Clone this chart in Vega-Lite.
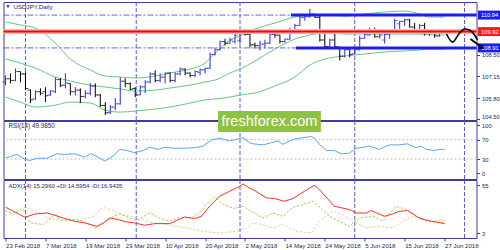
{
"$schema": "https://vega.github.io/schema/vega-lite/v6.json",
"background": "white",
"padding": {"left": 0.5, "top": 1, "right": 0, "bottom": 0},
"spacing": 1,
"bounds": "flush",
"config": {
 "view": {"stroke": "#3c3ca0", "strokeWidth": 1},
 "axis": {"labelFont": "Liberation Sans", "labelFontSize": 5.8, "labelColor": "#1e1e66", "tickColor": "#3c3ca0", "domain": false, "grid": false},
 "text": {"font": "Liberation Sans"}
},
"datasets": {
 "seps": [{"i": 4}, {"i": 26.2}, {"i": 47}, {"i": 70}, {"i": 92}],
 "ohlc": [
  {"i":0,"o":106.80,"h":107.21,"l":106.60,"c":107.00},
  {"i":1,"o":107.00,"h":107.33,"l":106.72,"c":106.90},
  {"i":2,"o":106.90,"h":107.64,"l":106.85,"c":107.45},
  {"i":3,"o":107.45,"h":107.45,"l":106.78,"c":107.30},
  {"i":4,"o":107.30,"h":107.40,"l":106.29,"c":106.40},
  {"i":5,"o":106.30,"h":106.35,"l":105.49,"c":105.70},
  {"i":6,"o":105.75,"h":106.29,"l":105.70,"c":106.20},
  {"i":7,"o":106.20,"h":106.41,"l":105.98,"c":106.10},
  {"i":8,"o":106.20,"h":106.48,"l":105.56,"c":105.95},
  {"i":9,"o":106.00,"h":106.29,"l":105.95,"c":106.25},
  {"i":10,"o":106.20,"h":107.09,"l":106.11,"c":106.95},
  {"i":11,"o":106.95,"h":107.03,"l":106.48,"c":106.60},
  {"i":12,"o":106.60,"h":107.33,"l":106.41,"c":106.75},
  {"i":13,"o":106.70,"h":106.72,"l":105.98,"c":106.20},
  {"i":14,"o":106.20,"h":106.48,"l":105.98,"c":106.30},
  {"i":15,"o":106.30,"h":106.41,"l":105.49,"c":105.90},
  {"i":16,"o":105.90,"h":106.29,"l":105.80,"c":106.10},
  {"i":17,"o":106.10,"h":106.72,"l":105.98,"c":106.55},
  {"i":18,"o":106.55,"h":106.72,"l":105.86,"c":106.00},
  {"i":19,"o":106.00,"h":106.05,"l":105.25,"c":105.35},
  {"i":20,"o":105.35,"h":105.56,"l":104.76,"c":104.90},
  {"i":21,"o":104.90,"h":105.37,"l":104.82,"c":105.25},
  {"i":22,"o":105.25,"h":105.80,"l":105.06,"c":105.45},
  {"i":23,"o":105.45,"h":107.09,"l":105.40,"c":106.85},
  {"i":24,"o":106.85,"h":107.03,"l":106.48,"c":106.70},
  {"i":25,"o":106.70,"h":106.78,"l":106.29,"c":106.35},
  {"i":26,"o":106.40,"h":106.48,"l":105.86,"c":106.00},
  {"i":27,"o":106.00,"h":106.60,"l":105.98,"c":106.50},
  {"i":28,"o":106.50,"h":106.91,"l":106.11,"c":106.80},
  {"i":29,"o":106.80,"h":107.40,"l":106.72,"c":107.30},
  {"i":30,"o":107.30,"h":107.52,"l":106.78,"c":106.90},
  {"i":31,"o":106.90,"h":107.33,"l":106.78,"c":107.10},
  {"i":32,"o":107.10,"h":107.40,"l":106.72,"c":107.35},
  {"i":33,"o":107.35,"h":107.40,"l":106.78,"c":106.90},
  {"i":34,"o":106.90,"h":107.40,"l":106.78,"c":107.30},
  {"i":35,"o":107.30,"h":107.70,"l":107.21,"c":107.60},
  {"i":36,"o":107.60,"h":107.64,"l":107.21,"c":107.35},
  {"i":37,"o":107.35,"h":107.40,"l":107.09,"c":107.20},
  {"i":38,"o":107.20,"h":107.52,"l":107.09,"c":107.45},
  {"i":39,"o":107.40,"h":107.64,"l":107.21,"c":107.55},
  {"i":40,"o":107.55,"h":107.70,"l":107.33,"c":107.65},
  {"i":41,"o":107.65,"h":108.62,"l":107.60,"c":108.50},
  {"i":42,"o":108.50,"h":108.93,"l":108.44,"c":108.80},
  {"i":43,"o":108.80,"h":109.36,"l":108.75,"c":109.30},
  {"i":44,"o":109.30,"h":109.48,"l":109.05,"c":109.20},
  {"i":45,"o":109.20,"h":109.54,"l":109.18,"c":109.40},
  {"i":46,"o":109.30,"h":109.79,"l":109.18,"c":109.70},
  {"i":47,"o":109.35,"h":109.97,"l":109.18,"c":109.85},
  {"i":48,"o":109.85,"h":109.97,"l":109.67,"c":109.75},
  {"i":49,"o":109.75,"h":109.85,"l":108.93,"c":109.10},
  {"i":50,"o":109.10,"h":109.24,"l":108.87,"c":109.05},
  {"i":51,"o":109.05,"h":109.36,"l":108.75,"c":109.15},
  {"i":52,"o":109.15,"h":109.42,"l":108.87,"c":109.20},
  {"i":53,"o":109.20,"h":109.85,"l":109.15,"c":109.75},
  {"i":54,"o":109.75,"h":109.85,"l":109.54,"c":109.70},
  {"i":55,"o":109.70,"h":109.72,"l":109.18,"c":109.30},
  {"i":56,"o":109.30,"h":109.48,"l":109.24,"c":109.45},
  {"i":57,"o":109.45,"h":110.16,"l":109.40,"c":110.05},
  {"i":58,"o":110.05,"h":110.40,"l":109.85,"c":110.30},
  {"i":59,"o":110.30,"h":110.89,"l":110.28,"c":110.80},
  {"i":60,"o":110.80,"h":110.89,"l":110.59,"c":110.85},
  {"i":61,"o":110.85,"h":111.32,"l":110.77,"c":111.00},
  {"i":62,"o":111.00,"h":111.02,"l":110.77,"c":110.80},
  {"i":63,"o":110.80,"h":110.89,"l":109.30,"c":109.40},
  {"i":64,"o":109.40,"h":109.85,"l":108.93,"c":109.00},
  {"i":65,"o":109.00,"h":109.48,"l":108.95,"c":109.40},
  {"i":66,"o":109.40,"h":109.79,"l":108.87,"c":109.00},
  {"i":67,"o":108.95,"h":108.98,"l":108.13,"c":108.40},
  {"i":68,"o":108.40,"h":108.87,"l":108.32,"c":108.80},
  {"i":69,"o":108.80,"h":108.87,"l":108.32,"c":108.50},
  {"i":70,"o":108.55,"h":108.93,"l":108.50,"c":108.80},
  {"i":71,"o":108.80,"h":109.67,"l":108.75,"c":109.50},
  {"i":72,"o":109.50,"h":109.85,"l":109.48,"c":109.75},
  {"i":73,"o":109.70,"h":110.16,"l":109.67,"c":110.00},
  {"i":74,"o":110.00,"h":110.16,"l":109.54,"c":109.60},
  {"i":75,"o":109.60,"h":109.79,"l":109.48,"c":109.70},
  {"i":76,"o":109.40,"h":109.79,"l":109.18,"c":109.75},
  {"i":77,"o":109.75,"h":109.97,"l":109.48,"c":109.90},
  {"i":78,"o":109.90,"h":110.71,"l":109.85,"c":110.60},
  {"i":79,"o":110.40,"h":110.59,"l":110.09,"c":110.55},
  {"i":80,"o":110.55,"h":110.71,"l":110.28,"c":110.65},
  {"i":81,"o":110.65,"h":110.71,"l":110.16,"c":110.20},
  {"i":82,"o":110.20,"h":110.46,"l":109.79,"c":109.90},
  {"i":83,"o":109.90,"h":110.40,"l":109.79,"c":110.30},
  {"i":84,"o":110.30,"h":110.46,"l":109.67,"c":109.90},
  {"i":85,"o":109.90,"h":109.97,"l":109.67,"c":109.80},
  {"i":86,"o":109.80,"h":109.97,"l":109.54,"c":109.65},
  {"i":87,"o":109.65,"h":110.09,"l":109.60,"c":110.00},
  {"i":88,"o":109.85,"h":110.09,"l":109.79,"c":110.00}
 ],
 "bb": [
  {"i":0,"up":110.51,"mid":108.22,"lo":105.87},
  {"i":3,"up":110.33,"mid":107.97,"lo":105.56},
  {"i":6,"up":110.14,"mid":107.66,"lo":105.25},
  {"i":10,"up":109.21,"mid":107.11,"lo":105.37},
  {"i":13,"up":108.22,"mid":106.86,"lo":105.56},
  {"i":17,"up":107.54,"mid":106.61,"lo":105.50},
  {"i":20,"up":107.17,"mid":106.49,"lo":105.06},
  {"i":23,"up":107.11,"mid":106.37,"lo":104.94},
  {"i":26,"up":107.05,"mid":106.24,"lo":105.00},
  {"i":30,"up":107.17,"mid":106.30,"lo":105.13},
  {"i":33,"up":107.36,"mid":106.43,"lo":105.25},
  {"i":37,"up":107.60,"mid":106.61,"lo":105.50},
  {"i":40,"up":107.97,"mid":106.80,"lo":105.69},
  {"i":42,"up":108.59,"mid":106.92,"lo":105.75},
  {"i":45,"up":109.40,"mid":107.36,"lo":105.87},
  {"i":47,"up":109.65,"mid":107.60,"lo":106.00},
  {"i":50,"up":110.08,"mid":108.10,"lo":106.12},
  {"i":54,"up":110.45,"mid":108.84,"lo":106.55},
  {"i":58,"up":110.82,"mid":109.46,"lo":107.11},
  {"i":61,"up":110.95,"mid":109.71,"lo":107.85},
  {"i":64,"up":110.95,"mid":109.83,"lo":108.22},
  {"i":68,"up":110.88,"mid":109.77,"lo":108.41},
  {"i":72,"up":111.01,"mid":109.77,"lo":108.53},
  {"i":76,"up":111.13,"mid":109.77,"lo":108.66},
  {"i":80,"up":111.19,"mid":109.77,"lo":108.72},
  {"i":83,"up":111.01,"mid":109.77,"lo":108.78},
  {"i":85,"up":110.82,"mid":109.71,"lo":108.84},
  {"i":88,"up":110.82,"mid":109.71,"lo":108.84}
 ],
 "arrow": [
  {"i":88.4,"p":109.77},{"i":89.6,"p":109.27},{"i":91.0,"p":109.83},{"i":92.0,"p":110.08},{"i":93.0,"p":110.02},{"i":94.0,"p":109.71},{"i":94.6,"p":109.40}
 ],
 "shaft": [{"i":93.2,"p":109.46},{"i":95.3,"p":108.98}],
 "rsi": [
  {"i":0,"v":32.6},{"i":1,"v":35.0},{"i":2.3,"v":39.6},{"i":3.9,"v":29.2},{"i":4.9,"v":26.9},{"i":6.3,"v":31.5},{"i":8.3,"v":31.5},{"i":10.3,"v":40.7},{"i":11.9,"v":39.6},{"i":13.9,"v":40.7},{"i":15.9,"v":33.8},{"i":17.1,"v":40.7},{"i":18.6,"v":33.8},{"i":19.9,"v":25.7},{"i":21.6,"v":36.1},{"i":22.9,"v":50.0},{"i":24.3,"v":47.7},{"i":25.9,"v":43.0},{"i":27.6,"v":47.7},{"i":28.9,"v":54.6},{"i":30.6,"v":50.0},{"i":31.9,"v":54.6},{"i":33.6,"v":52.3},{"i":35.6,"v":52.3},{"i":37.9,"v":53.4},{"i":39.6,"v":56.9},{"i":41.3,"v":69.6},{"i":42.9,"v":73.1},{"i":44.9,"v":67.3},{"i":46.3,"v":70.8},{"i":47.6,"v":74.2},{"i":48.9,"v":63.8},{"i":49.6,"v":61.5},{"i":51.6,"v":59.2},{"i":53.3,"v":63.8},{"i":54.6,"v":67.3},{"i":55.6,"v":60.4},{"i":56.6,"v":66.1},{"i":57.9,"v":70.8},{"i":59.6,"v":74.2},{"i":61.3,"v":76.5},{"i":61.9,"v":73.1},{"i":62.9,"v":60.4},{"i":64.3,"v":47.7},{"i":65.9,"v":47.7},{"i":67.3,"v":40.7},{"i":68.9,"v":41.9},{"i":70.3,"v":52.3},{"i":71.9,"v":54.6},{"i":72.9,"v":56.9},{"i":74.9,"v":50.0},{"i":76.9,"v":59.2},{"i":78.9,"v":59.2},{"i":80.6,"v":61.5},{"i":82.3,"v":53.4},{"i":83.3,"v":56.9},{"i":84.3,"v":50.0},{"i":85.9,"v":47.7},{"i":86.9,"v":50.0},{"i":88,"v":49.99}
 ],
 "adx": [
  {"i":0,"v":31.2},{"i":1.6,"v":26.8},{"i":3.9,"v":20.3},{"i":5.9,"v":23.9},{"i":8.3,"v":25},{"i":9.9,"v":22.5},{"i":11.9,"v":18.9},{"i":13.9,"v":16},{"i":15.9,"v":14.2},{"i":18.3,"v":10.6},{"i":19.6,"v":14.2},{"i":20.9,"v":19.6},{"i":22.6,"v":17.8},{"i":24.3,"v":15.3},{"i":25.9,"v":14.2},{"i":27.9,"v":11.7},{"i":29.9,"v":13.5},{"i":32.9,"v":13.5},{"i":34.3,"v":16.8},{"i":35.9,"v":20.7},{"i":37.9,"v":18.9},{"i":39.3,"v":21.4},{"i":40.9,"v":32.3},{"i":42.9,"v":43.1},{"i":44.9,"v":48.5},{"i":46.6,"v":52.8},{"i":47.6,"v":56.4},{"i":48.9,"v":52.1},{"i":49.6,"v":50.3},{"i":52.3,"v":41.3},{"i":53.9,"v":40.6},{"i":55.9,"v":37.7},{"i":57.6,"v":40.6},{"i":59.9,"v":48.5},{"i":61.9,"v":55},{"i":62.9,"v":50.3},{"i":65.9,"v":32.3},{"i":68.9,"v":28.7},{"i":70.3,"v":25},{"i":72.3,"v":25},{"i":73.3,"v":27.6},{"i":75.9,"v":21.4},{"i":77.6,"v":23.9},{"i":78.9,"v":26.8},{"i":80.6,"v":27.6},{"i":82.9,"v":19.6},{"i":84.6,"v":16.8},{"i":86.3,"v":15.3},{"i":88,"v":13.5}
 ],
 "pdi": [
  {"i":0,"v":27.6},{"i":1.6,"v":23.3},{"i":3.6,"v":28.7},{"i":4.9,"v":14.2},{"i":7.6,"v":12.4},{"i":9.9,"v":23.3},{"i":11.6,"v":16},{"i":13.6,"v":17.8},{"i":15.6,"v":16},{"i":18.3,"v":8.8},{"i":20.3,"v":16},{"i":21.6,"v":21.4},{"i":22.9,"v":23.9},{"i":24.9,"v":19.6},{"i":26.3,"v":16.8},{"i":28.9,"v":25},{"i":30.9,"v":19.6},{"i":32.9,"v":16},{"i":34.6,"v":19.6},{"i":36.9,"v":19.6},{"i":38.6,"v":23.3},{"i":39.9,"v":32.3},{"i":41.9,"v":42},{"i":43.6,"v":34.7},{"i":45.6,"v":29.8},{"i":47.6,"v":32.3},{"i":49.3,"v":26.8},{"i":51.6,"v":19.6},{"i":53.6,"v":25},{"i":55.6,"v":21.4},{"i":57.6,"v":31.2},{"i":59.6,"v":34.1},{"i":61.6,"v":37.7},{"i":64.9,"v":21.4},{"i":68.9,"v":10.6},{"i":70.9,"v":19.6},{"i":73.6,"v":21.4},{"i":75.6,"v":16},{"i":78.3,"v":32.3},{"i":80.3,"v":28.7},{"i":82.3,"v":21.4},{"i":84.3,"v":16},{"i":86.9,"v":14.2},{"i":88,"v":14.6}
 ],
 "mdi": [
  {"i":0,"v":22},{"i":2,"v":26},{"i":3.6,"v":31.2},{"i":6.3,"v":26.8},{"i":8.3,"v":19.6},{"i":10.3,"v":17.8},{"i":13,"v":18.5},{"i":15,"v":16.5},{"i":17.6,"v":21.4},{"i":19.6,"v":31.2},{"i":20.9,"v":28.7},{"i":23.6,"v":23.3},{"i":26.3,"v":19.6},{"i":28.9,"v":15.3},{"i":31.6,"v":13.1},{"i":35.6,"v":9.5},{"i":39.6,"v":5.2},{"i":42.9,"v":3.3},{"i":46.3,"v":5.2},{"i":48.3,"v":8.8},{"i":49.6,"v":14},{"i":51.6,"v":12.4},{"i":53.6,"v":8.8},{"i":55.6,"v":12.4},{"i":58.3,"v":5.2},{"i":61.3,"v":3.3},{"i":62.9,"v":16},{"i":65.6,"v":26.8},{"i":67.6,"v":23.3},{"i":69.6,"v":16},{"i":72.3,"v":8.8},{"i":74.9,"v":10.6},{"i":77.6,"v":8.8},{"i":79.6,"v":16},{"i":81.6,"v":21.4},{"i":84.3,"v":17.8},{"i":86.9,"v":16.8},{"i":88,"v":16.9}
 ]
},
"vconcat": [
 {
  "width": 473, "height": 118,
  "resolve": {"axis": {"x": "independent", "y": "independent"}},
  "layer": [
   {"data": {"name": "seps"}, "mark": {"type": "rule", "color": "#5a5ad2", "strokeDash": [4, 2], "strokeWidth": 1},
    "encoding": {"x": {"field": "i", "type": "quantitative", "scale": {"domain": [-0.4, 94.4], "nice": false, "zero": false}, "axis": null}}},
   {"data": {"name": "bb"}, "mark": {"type": "line", "color": "#63c97e", "strokeWidth": 1, "interpolate": "monotone"},
    "encoding": {"x": {"field": "i", "type": "quantitative", "scale": {"domain": [-0.4, 94.4], "nice": false, "zero": false}, "axis": null},
     "y": {"field": "up", "type": "quantitative", "scale": {"domain": [104.45, 111.75], "nice": false, "zero": false}, "axis": null}}},
   {"data": {"name": "bb"}, "mark": {"type": "line", "color": "#63c97e", "strokeWidth": 1, "interpolate": "monotone"},
    "encoding": {"x": {"field": "i", "type": "quantitative", "scale": {"domain": [-0.4, 94.4], "nice": false, "zero": false}, "axis": null},
     "y": {"field": "mid", "type": "quantitative", "scale": {"domain": [104.45, 111.75], "nice": false, "zero": false}, "axis": null}}},
   {"data": {"name": "bb"}, "mark": {"type": "line", "color": "#63c97e", "strokeWidth": 1, "interpolate": "monotone"},
    "encoding": {"x": {"field": "i", "type": "quantitative", "scale": {"domain": [-0.4, 94.4], "nice": false, "zero": false}, "axis": null},
     "y": {"field": "lo", "type": "quantitative", "scale": {"domain": [104.45, 111.75], "nice": false, "zero": false}, "axis": null}}},
   {"data": {"name": "ohlc"}, "mark": {"type": "rule", "strokeWidth": 1},
    "encoding": {"x": {"field": "i", "type": "quantitative", "scale": {"domain": [-0.4, 94.4], "nice": false, "zero": false}, "axis": null},
     "y": {"field": "l", "type": "quantitative", "scale": {"domain": [104.45, 111.75], "nice": false, "zero": false},
      "axis": {"orient": "right", "values": [104.5, 105.8, 107.15, 108.5], "format": ".2f", "title": null, "labelFlush": 2, "tickSize": 3, "labelPadding": 2}},
     "y2": {"field": "h"},
     "color": {"condition": {"test": "datum.c >= datum.o", "value": "#2b2bd6"}, "value": "#000000"}}},
   {"data": {"name": "ohlc"}, "mark": {"type": "tick", "orient": "horizontal", "size": 3, "thickness": 1, "xOffset": -1.5},
    "encoding": {"x": {"field": "i", "type": "quantitative", "scale": {"domain": [-0.4, 94.4], "nice": false, "zero": false}, "axis": null},
     "y": {"field": "o", "type": "quantitative", "scale": {"domain": [104.45, 111.75], "nice": false, "zero": false}, "axis": null},
     "color": {"condition": {"test": "datum.c >= datum.o", "value": "#2b2bd6"}, "value": "#000000"}}},
   {"data": {"name": "ohlc"}, "mark": {"type": "tick", "orient": "horizontal", "size": 3, "thickness": 1, "xOffset": 1.5},
    "encoding": {"x": {"field": "i", "type": "quantitative", "scale": {"domain": [-0.4, 94.4], "nice": false, "zero": false}, "axis": null},
     "y": {"field": "c", "type": "quantitative", "scale": {"domain": [104.45, 111.75], "nice": false, "zero": false}, "axis": null},
     "color": {"condition": {"test": "datum.c >= datum.o", "value": "#2b2bd6"}, "value": "#000000"}}},
   {"data": {"values": [{}]}, "mark": {"type": "rule", "color": "#6464e6", "strokeWidth": 1, "strokeDash": [6, 2, 2, 2]},
    "encoding": {"x": {"datum": -0.4, "type": "quantitative", "scale": {"domain": [-0.4, 94.4], "nice": false, "zero": false}, "axis": null}, "x2": {"datum": 57.2},
     "y": {"datum": 110.94, "type": "quantitative", "scale": {"domain": [104.45, 111.75], "nice": false, "zero": false}, "axis": null}}},
   {"data": {"values": [{}]}, "mark": {"type": "rule", "color": "#6464e6", "strokeWidth": 1, "strokeDash": [6, 2, 2, 2]},
    "encoding": {"x": {"datum": -0.4, "type": "quantitative", "scale": {"domain": [-0.4, 94.4], "nice": false, "zero": false}, "axis": null}, "x2": {"datum": 58.2},
     "y": {"datum": 108.91, "type": "quantitative", "scale": {"domain": [104.45, 111.75], "nice": false, "zero": false}, "axis": null}}},
   {"data": {"values": [{}]}, "mark": {"type": "rule", "color": "#ffb3b3", "strokeWidth": 5},
    "encoding": {"y": {"datum": 109.92, "type": "quantitative", "scale": {"domain": [104.45, 111.75], "nice": false, "zero": false}, "axis": null}}},
   {"data": {"values": [{}]}, "mark": {"type": "rule", "color": "#ff0000", "strokeWidth": 2},
    "encoding": {"y": {"datum": 109.92, "type": "quantitative", "scale": {"domain": [104.45, 111.75], "nice": false, "zero": false}, "axis": null}}},
   {"data": {"values": [{}]}, "mark": {"type": "rule", "color": "#1e1ef0", "strokeWidth": 3},
    "encoding": {"x": {"datum": 57.2, "type": "quantitative", "scale": {"domain": [-0.4, 94.4], "nice": false, "zero": false}, "axis": null}, "x2": {"datum": 94.4},
     "y": {"datum": 110.94, "type": "quantitative", "scale": {"domain": [104.45, 111.75], "nice": false, "zero": false}, "axis": null}}},
   {"data": {"values": [{}]}, "mark": {"type": "rule", "color": "#1e1ef0", "strokeWidth": 3},
    "encoding": {"x": {"datum": 58.2, "type": "quantitative", "scale": {"domain": [-0.4, 94.4], "nice": false, "zero": false}, "axis": null}, "x2": {"datum": 94.4},
     "y": {"datum": 108.91, "type": "quantitative", "scale": {"domain": [104.45, 111.75], "nice": false, "zero": false}, "axis": null}}},
   {"data": {"values": [{}]}, "mark": {"type": "rule", "color": "#1e1ef0", "strokeWidth": 9, "clip": false},
    "encoding": {"x": {"datum": 94.7, "type": "quantitative", "scale": {"domain": [-0.4, 94.4], "nice": false, "zero": false}, "axis": null}, "x2": {"datum": 100.6},
     "y": {"datum": 110.94, "type": "quantitative", "scale": {"domain": [104.45, 111.75], "nice": false, "zero": false}, "axis": null}}},
   {"data": {"values": [{}]}, "mark": {"type": "rule", "color": "#1e1ef0", "strokeWidth": 9, "clip": false},
    "encoding": {"x": {"datum": 94.7, "type": "quantitative", "scale": {"domain": [-0.4, 94.4], "nice": false, "zero": false}, "axis": null}, "x2": {"datum": 100.6},
     "y": {"datum": 108.91, "type": "quantitative", "scale": {"domain": [104.45, 111.75], "nice": false, "zero": false}, "axis": null}}},
   {"data": {"values": [{}]}, "mark": {"type": "rule", "color": "#ff1a1a", "strokeWidth": 9, "clip": false},
    "encoding": {"x": {"datum": 94.7, "type": "quantitative", "scale": {"domain": [-0.4, 94.4], "nice": false, "zero": false}, "axis": null}, "x2": {"datum": 100.6},
     "y": {"datum": 109.92, "type": "quantitative", "scale": {"domain": [104.45, 111.75], "nice": false, "zero": false}, "axis": null}}},
   {"data": {"values": [{"p": 110.94, "t": "110.94"}, {"p": 109.92, "t": "109.92"}, {"p": 108.91, "t": "108.91"}]},
    "mark": {"type": "text", "color": "white", "fontSize": 5.8, "align": "left", "baseline": "middle", "clip": false},
    "encoding": {"x": {"datum": 95.3, "type": "quantitative", "scale": {"domain": [-0.4, 94.4], "nice": false, "zero": false}, "axis": null},
     "y": {"field": "p", "type": "quantitative", "scale": {"domain": [104.45, 111.75], "nice": false, "zero": false}, "axis": null},
     "text": {"field": "t"}}},
   {"data": {"name": "arrow"}, "mark": {"type": "line", "color": "#000000", "strokeWidth": 1.6, "interpolate": "monotone", "clip": false},
    "encoding": {"x": {"field": "i", "type": "quantitative", "scale": {"domain": [-0.4, 94.4], "nice": false, "zero": false}, "axis": null},
     "y": {"field": "p", "type": "quantitative", "scale": {"domain": [104.45, 111.75], "nice": false, "zero": false}, "axis": null}}},
   {"data": {"name": "shaft"}, "mark": {"type": "line", "color": "#000000", "strokeWidth": 1.8, "clip": false},
    "encoding": {"x": {"field": "i", "type": "quantitative", "scale": {"domain": [-0.4, 94.4], "nice": false, "zero": false}, "axis": null},
     "y": {"field": "p", "type": "quantitative", "scale": {"domain": [104.45, 111.75], "nice": false, "zero": false}, "axis": null}}},
   {"data": {"values": [{}]}, "mark": {"type": "point", "shape": "triangle-right", "filled": true, "color": "#000000", "size": 30, "angle": 36, "opacity": 1, "clip": false},
    "encoding": {"x": {"datum": 95.5, "type": "quantitative", "scale": {"domain": [-0.4, 94.4], "nice": false, "zero": false}, "axis": null},
     "y": {"datum": 108.93, "type": "quantitative", "scale": {"domain": [104.45, 111.75], "nice": false, "zero": false}, "axis": null}}},
   {"data": {"values": [{}]}, "mark": {"type": "point", "shape": "triangle-down", "filled": true, "color": "#1e1e66", "size": 10, "opacity": 1},
    "encoding": {"x": {"datum": 0.5, "type": "quantitative", "scale": {"domain": [-0.4, 94.4], "nice": false, "zero": false}, "axis": null},
     "y": {"datum": 111.47, "type": "quantitative", "scale": {"domain": [104.45, 111.75], "nice": false, "zero": false}, "axis": null}}},
   {"data": {"values": [{"t": "USDJPY,Daily"}]}, "mark": {"type": "text", "color": "#1e1e66", "fontSize": 6.2, "align": "left", "baseline": "middle"},
    "encoding": {"x": {"datum": 1.6, "type": "quantitative", "scale": {"domain": [-0.4, 94.4], "nice": false, "zero": false}, "axis": null},
     "y": {"datum": 111.47, "type": "quantitative", "scale": {"domain": [104.45, 111.75], "nice": false, "zero": false}, "axis": null},
     "text": {"field": "t"}}}
  ]
 },
 {
  "width": 473, "height": 58,
  "resolve": {"axis": {"x": "independent", "y": "independent"}},
  "layer": [
   {"data": {"name": "seps"}, "mark": {"type": "rule", "color": "#5a5ad2", "strokeDash": [4, 2], "strokeWidth": 1},
    "encoding": {"x": {"field": "i", "type": "quantitative", "scale": {"domain": [-0.4, 94.4], "nice": false, "zero": false}, "axis": null}}},
   {"data": {"values": [{"v": 70}, {"v": 30}]}, "mark": {"type": "rule", "color": "#bdbdbd", "strokeDash": [2, 2], "strokeWidth": 1},
    "encoding": {"y": {"field": "v", "type": "quantitative", "scale": {"domain": [-11.4, 108.7], "nice": false, "zero": false}, "axis": null}}},
   {"data": {"name": "rsi"}, "mark": {"type": "line", "color": "#5aa5f0", "strokeWidth": 1},
    "encoding": {"x": {"field": "i", "type": "quantitative", "scale": {"domain": [-0.4, 94.4], "nice": false, "zero": false}, "axis": null},
     "y": {"field": "v", "type": "quantitative", "scale": {"domain": [-11.4, 108.7], "nice": false, "zero": false},
      "axis": {"orient": "right", "values": [0, 30, 70, 100], "title": null, "labelFlush": false, "tickSize": 3, "labelPadding": 2}}}},
   {"data": {"values": [{"t": "RSI(14) 49.9850"}]}, "mark": {"type": "text", "color": "#1e1e66", "fontSize": 6.3, "align": "left", "baseline": "middle"},
    "encoding": {"x": {"datum": 0.6, "type": "quantitative", "scale": {"domain": [-0.4, 94.4], "nice": false, "zero": false}, "axis": null},
     "y": {"datum": 99, "type": "quantitative", "scale": {"domain": [-11.4, 108.7], "nice": false, "zero": false}, "axis": null},
     "text": {"field": "t"}}},
   {"data": {"values": [{}]}, "mark": {"type": "rect", "color": "#8cc23f", "opacity": 1, "clip": false},
    "encoding": {"x": {"datum": 42.6, "type": "quantitative", "scale": {"domain": [-0.4, 94.4], "nice": false, "zero": false}, "axis": null}, "x2": {"datum": 63.2},
     "y": {"datum": 129.4, "type": "quantitative", "scale": {"domain": [-11.4, 108.7], "nice": false, "zero": false}, "axis": null}, "y2": {"datum": 86.0}}},
   {"data": {"values": [{"t": "freshforex.com"}]}, "mark": {"type": "text", "color": "white", "fontSize": 14.5, "align": "center", "baseline": "middle", "clip": false},
    "encoding": {"x": {"datum": 52.9, "type": "quantitative", "scale": {"domain": [-0.4, 94.4], "nice": false, "zero": false}, "axis": null},
     "y": {"datum": 107, "type": "quantitative", "scale": {"domain": [-11.4, 108.7], "nice": false, "zero": false}, "axis": null},
     "text": {"field": "t"}}}
  ]
 },
 {
  "width": 473, "height": 58,
  "resolve": {"axis": {"x": "independent", "y": "independent"}},
  "layer": [
   {"data": {"name": "seps"}, "mark": {"type": "rule", "color": "#5a5ad2", "strokeDash": [4, 2], "strokeWidth": 1},
    "encoding": {"x": {"field": "i", "type": "quantitative", "scale": {"domain": [-0.4, 94.4], "nice": false, "zero": false}, "axis": null}}},
   {"data": {"name": "mdi"}, "mark": {"type": "line", "color": "#f5c590", "strokeWidth": 1, "strokeDash": [2, 2]},
    "encoding": {"x": {"field": "i", "type": "quantitative", "scale": {"domain": [-0.4, 94.4], "nice": false, "zero": false}, "axis": null},
     "y": {"field": "v", "type": "quantitative", "scale": {"domain": [-2.1, 60.7], "nice": false, "zero": false}, "axis": null}}},
   {"data": {"name": "pdi"}, "mark": {"type": "line", "color": "#9acd32", "strokeWidth": 1, "strokeDash": [2, 2]},
    "encoding": {"x": {"field": "i", "type": "quantitative", "scale": {"domain": [-0.4, 94.4], "nice": false, "zero": false}, "axis": null},
     "y": {"field": "v", "type": "quantitative", "scale": {"domain": [-2.1, 60.7], "nice": false, "zero": false}, "axis": null}}},
   {"data": {"name": "adx"}, "mark": {"type": "line", "color": "#ff3030", "strokeWidth": 1},
    "encoding": {"x": {"field": "i", "type": "quantitative", "scale": {"domain": [-0.4, 94.4], "nice": false, "zero": false},
      "axis": {"orient": "bottom", "values": [0, 8, 16, 24, 32, 40, 48, 56, 64, 72, 80, 88], "title": null, "labelAlign": "left", "labelFlush": false, "labelOverlap": false, "tickSize": 3, "labelPadding": 1, "labelFontSize": 6.1,
       "labelExpr": "['23 Feb 2018','7 Mar 2018','19 Mar 2018','29 Mar 2018','10 Apr 2018','20 Apr 2018','2 May 2018','14 May 2018','24 May 2018','5 Jun 2018','15 Jun 2018','27 Jun 2018'][round(datum.value/8)]"}},
     "y": {"field": "v", "type": "quantitative", "scale": {"domain": [-2.1, 60.7], "nice": false, "zero": false},
      "axis": {"orient": "right", "values": [3, 55], "title": null, "labelFlush": false, "tickSize": 3, "labelPadding": 2}}}},
   {"data": {"values": [{"t": "ADX(14) 15.2960 +DI:14.5954 -DI:16.9435"}]}, "mark": {"type": "text", "color": "#1e1e66", "fontSize": 6.0, "align": "left", "baseline": "middle"},
    "encoding": {"x": {"datum": 0.6, "type": "quantitative", "scale": {"domain": [-0.4, 94.4], "nice": false, "zero": false}, "axis": null},
     "y": {"datum": 54.2, "type": "quantitative", "scale": {"domain": [-2.1, 60.7], "nice": false, "zero": false}, "axis": null},
     "text": {"field": "t"}}}
  ]
 }
]
}
